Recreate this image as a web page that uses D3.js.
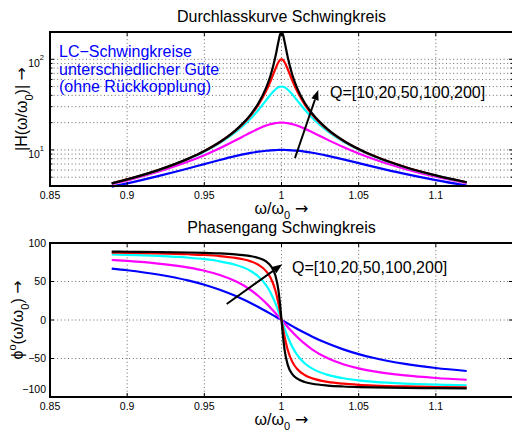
<!DOCTYPE html>
<html><head><meta charset="utf-8">
<script src="https://cdn.jsdelivr.net/npm/d3@7"></script>
<style>body{margin:0;background:#fff} text{font-family:"Liberation Sans",Arial,Helvetica,sans-serif} .arr{font-family:"DejaVu Sans",sans-serif}</style>
</head><body><svg id="c" width="512" height="436"></svg>
<script>
// ---------- data ----------
const omega = [0.89,0.90,0.92,0.94,0.95,0.96,0.97,0.975,0.98,0.985,0.99,0.993,0.996,0.998,0.999,1.0,1.001,1.002,1.004,1.007,1.01,1.015,1.02,1.03,1.04,1.05,1.06,1.08,1.10,1.12];
const qValues = [10,20,50,100,200];
const seriesColors = ["#0000ff","#ff00ff","#00ffff","#ff0000","#000000"];

const magQ10  = [3.94,4.28,5.14,6.28,6.98,7.75,8.54,8.92,9.27,9.57,9.80,9.90,9.97,9.99,10.0,10.0,10.0,9.99,9.97,9.90,9.81,9.58,9.30,8.61,7.87,7.16,6.51,5.44,4.64,4.03];
const magQ20  = [4.19,4.61,5.74,7.49,8.76,10.44,12.69,14.05,15.56,17.12,18.56,19.25,19.75,19.94,19.98,20,19.98,19.94,19.75,19.26,18.58,17.18,15.68,12.91,10.75,9.12,7.88,6.17,5.07,4.30];
const magQ50  = [4.27,4.72,5.95,7.97,9.56,11.89,15.59,18.37,22.18,27.59,35.27,40.91,46.41,49.03,49.75,50,49.75,49.03,46.44,41.01,35.44,27.88,22.54,16.02,12.35,10.04,8.45,6.44,5.21,4.39];
const magQ100 = [4.28,4.73,5.98,8.05,9.70,12.15,16.20,19.37,24.02,31.41,44.54,57.99,78.03,92.84,98.06,100,98.06,92.86,78.15,58.26,44.90,31.83,24.48,16.68,12.64,10.19,8.55,6.48,5.23,4.40];
const magQ200 = [4.28,4.74,5.99,8.07,9.73,12.22,16.36,19.65,24.56,32.64,48.28,67.06,105.85,156.11,185.68,200,185.72,156.23,106.15,67.48,48.73,33.12,25.05,16.85,12.72,10.23,8.57,6.49,5.24,4.40];

const phQ10  = [66.8,64.65,59.09,51.07,45.74,39.24,31.36,26.86,22.00,16.82,11.37,8.00,4.58,2.29,1.15,0,-1.15,-2.29,-4.56,-7.94,-11.25,-16.58,-21.61,-30.60,-38.11,-44.31,-49.38,-57.01,-62.35,-66.24];
const phQ20  = [77.92,76.68,73.33,68.01,64.03,58.52,50.63,45.36,38.95,31.16,21.90,15.70,9.11,4.58,2.29,0,-2.29,-4.57,-9.07,-15.59,-21.70,-30.78,-38.39,-49.78,-57.49,-62.88,-66.80,-72.02,-75.32,-77.59];
const phQ50  = [85.11,84.59,83.17,80.83,78.97,76.24,71.83,68.45,63.67,56.51,45.15,35.09,21.84,11.32,5.72,0,-5.71,-11.30,-21.76,-34.90,-44.86,-56.11,-63.21,-71.31,-75.70,-78.42,-80.27,-82.60,-84.02,-84.97];
const phQ100 = [87.55,87.29,86.57,85.38,84.44,83.02,80.68,78.83,76.10,71.70,63.55,54.56,38.71,21.82,11.32,0,-11.30,-21.78,-38.61,-54.37,-63.32,-71.44,-75.83,-80.40,-82.74,-84.15,-85.10,-86.29,-87.00,-87.48];
const phQ200 = [88.77,88.64,88.28,87.69,87.21,86.50,85.31,84.36,82.95,80.61,76.03,70.41,58.05,38.69,21.81,0,-21.79,-38.63,-57.94,-70.28,-75.90,-80.47,-82.80,-85.17,-86.35,-87.07,-87.54,-88.14,-88.50,-88.74];

const magSeries = [magQ10, magQ20, magQ50, magQ100, magQ200];
const phSeries  = [phQ10, phQ20, phQ50, phQ100, phQ200];

const xTicks = [0.85,0.9,0.95,1,1.05,1.1];
const xTickLabels = ["0.85","0.9","0.95","1","1.05","1.1"];
const magMajorTicks = [10,100];
const magMinorTicks = [5,6,7,8,9,20,30,40,50,60,70,80,90];
const phTicks = [-100,-50,0,50,100];
const phTickLabels = ["\u2212100","\u221250","0","50","100"];

const title1 = "Durchlasskurve Schwingkreis";
const title2 = "Phasengang Schwingkreis";
const noteLines = ["LC\u2212Schwingkreise","unterschiedlicher G\u00fcte","(ohne R\u00fcckkopplung)"];
const qNote = "Q=[" + qValues.join(",") + "]";

// ---------- layout ----------
const svg = d3.select("#c");
svg.append("rect").attr("width",512).attr("height",436).attr("fill","#fff");
const L = 50, R = 513;
const x = d3.scaleLinear().domain([0.85,1.15]).range([L,R]);
const yMag = d3.scaleLog().domain([4,200]).range([186,32]);
const yPh = d3.scaleLinear().domain([-100,100]).range([397,243]);

const gridStyle = g => g.attr("stroke","#444").attr("stroke-width",0.8).attr("stroke-dasharray","1,2.6");

function panel(y, top, bottom, series, yGridVals, isLog) {
  const g = svg.append("g");
  const gg = g.append("g").call(gridStyle);
  xTicks.slice(1).forEach(v => gg.append("line").attr("x1",x(v)).attr("x2",x(v)).attr("y1",top).attr("y2",bottom));
  yGridVals.forEach(v => gg.append("line").attr("x1",L).attr("x2",R).attr("y1",y(v)).attr("y2",y(v)));
  const line = d3.line().x((d,i)=>x(omega[i])).y(d=>y(d)).curve(d3.curveMonotoneX);
  series.forEach((s,i) => g.append("path").attr("d", line(s)).attr("fill","none")
    .attr("stroke", seriesColors[i]).attr("stroke-width",2.2).attr("stroke-linejoin","round"));
  const tk = g.append("g").attr("stroke","#000").attr("stroke-width",1);
  xTicks.forEach(v => {
    tk.append("line").attr("x1",x(v)).attr("x2",x(v)).attr("y1",bottom).attr("y2",bottom-4);
    tk.append("line").attr("x1",x(v)).attr("x2",x(v)).attr("y1",top).attr("y2",top+4);
  });
  const major = isLog ? magMajorTicks : phTicks;
  major.forEach(v => {
    tk.append("line").attr("x1",L).attr("x2",L+4).attr("y1",y(v)).attr("y2",y(v));
    tk.append("line").attr("x1",R).attr("x2",R-4).attr("y1",y(v)).attr("y2",y(v));
  });
  if (isLog) magMinorTicks.forEach(v => {
    tk.append("line").attr("x1",L).attr("x2",L+2.5).attr("y1",y(v)).attr("y2",y(v));
    tk.append("line").attr("x1",R).attr("x2",R-2.5).attr("y1",y(v)).attr("y2",y(v));
  });
  g.append("rect").attr("x",L).attr("y",top).attr("width",R-L).attr("height",bottom-top)
    .attr("fill","none").attr("stroke","#000").attr("stroke-width",2);
  xTicks.forEach((v,i) => g.append("text").attr("x",x(v)).attr("y",bottom+12.5)
    .attr("text-anchor","middle").attr("font-size",10.5).text(xTickLabels[i]));
  const xl = g.append("text").attr("x",(L+R)/2).attr("y",bottom+27.5).attr("text-anchor","middle").attr("font-size",16);
  xl.append("tspan").text("\u03c9/\u03c9");
  xl.append("tspan").attr("font-size",11).attr("dy",5).text("0");
  xl.append("tspan").attr("dy",-5).attr("class","arr").text(" \u2192");
  return g;
}

// top panel
const gTop = panel(yMag, 32, 186, magSeries, magMajorTicks.concat(magMinorTicks), true);
magMajorTicks.forEach(v => {
  const t = gTop.append("text").attr("x",44).attr("y",yMag(v)+8).attr("text-anchor","end").attr("font-size",10.5);
  t.append("tspan").text("10");
  t.append("tspan").attr("font-size",7.5).attr("dy",-7).text(String(Math.round(Math.log10(v))));
});
svg.append("text").attr("x",(L+R)/2).attr("y",22).attr("text-anchor","middle").attr("font-size",16).text(title1);
{
  const t = svg.append("text").attr("transform",`translate(27,${(32+186)/2}) rotate(-90)`).attr("text-anchor","middle").attr("font-size",16);
  t.append("tspan").text("|H(\u03c9/\u03c9");
  t.append("tspan").attr("font-size",11).attr("dy",6).text("0");
  t.append("tspan").attr("dy",-6).text(")| ");
  t.append("tspan").attr("class","arr").text("\u2192");
}
noteLines.forEach((s,i) => svg.append("text").attr("x",59).attr("y",57+i*17.5).attr("font-size",16).attr("fill","#0000ff").text(s));

// bottom panel
const gBot = panel(yPh, 243, 397, phSeries, [-50,0,50], false);
phTicks.forEach((v,i) => gBot.append("text").attr("x",46).attr("y", v === -100 ? yPh(v)-4 : yPh(v)+3.7)
  .attr("text-anchor","end").attr("font-size",10.5).text(phTickLabels[i]));
svg.append("text").attr("x",(L+R)/2).attr("y",233).attr("text-anchor","middle").attr("font-size",16).text(title2);
{
  const t = svg.append("text").attr("transform",`translate(23,${(243+397)/2}) rotate(-90)`).attr("text-anchor","middle").attr("font-size",16);
  t.append("tspan").text("\u03d5");
  t.append("tspan").attr("font-size",11).attr("dy",-7).text("o");
  t.append("tspan").attr("dy",7).text("(\u03c9/\u03c9");
  t.append("tspan").attr("font-size",11).attr("dy",6).text("0");
  t.append("tspan").attr("dy",-6).text(") ");
  t.append("tspan").attr("class","arr").text("\u2192");
}

// annotations (arrow + Q text)
function arrow(x1,y1,x2,y2) {
  const a = Math.atan2(y2-y1, x2-x1), hl = 10, hw = 3.8;
  const bx = x2 - hl*Math.cos(a), by = y2 - hl*Math.sin(a);
  svg.append("line").attr("x1",x1).attr("y1",y1).attr("x2",bx).attr("y2",by).attr("stroke","#000").attr("stroke-width",2);
  svg.append("path").attr("d",`M${x2},${y2}L${bx+hw*Math.sin(a)},${by-hw*Math.cos(a)}L${bx-hw*Math.sin(a)},${by+hw*Math.cos(a)}Z`).attr("fill","#000");
}
arrow(x(1.00875), yMag(8.15), x(1.0238), yMag(45.8));
svg.append("text").attr("x",x(1.0314)).attr("y",yMag(37.4)).attr("font-size",16).text(qNote);
arrow(x(0.9645), yPh(20.8), x(1.0005), yPh(72.3));
svg.append("text").attr("x",x(1.0068)).attr("y",yPh(61)).attr("font-size",16).text(qNote);
</script></body></html>
